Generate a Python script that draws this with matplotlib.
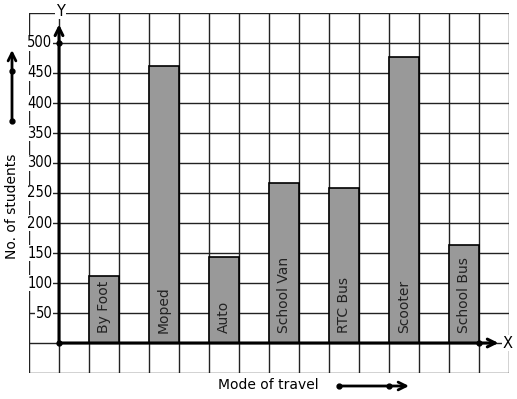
import matplotlib
matplotlib.use('Agg')
import matplotlib.pyplot as plt
import numpy as np

modes = ['By Foot', 'Moped', 'Auto', 'School Van', 'RTC Bus', 'Scooter', 'School Bus']
students = [112, 462, 143, 266, 258, 476, 163]
yticks = [50, 100, 150, 200, 250, 300, 350, 400, 450, 500]

W, H = 517, 399
fig = plt.figure(figsize=(W / 100, H / 100), dpi=100)
# grid box in pixels: x 29..509, y 13..373
ax = fig.add_axes([29 / W, (H - 373) / H, 480 / W, 360 / H])
ax.set_xlim(-1, 15)
ax.set_ylim(-50, 550)
ax.axis('off')

# grid
for gx in np.arange(-1, 16, 1):
    ax.plot([gx, gx], [-50, 550], color='#222222', lw=1.0, zorder=1)
for gy in np.arange(-50, 551, 50):
    ax.plot([-1, 15], [gy, gy], color='#222222', lw=1.0, zorder=1)

# bars
xpos = np.arange(len(modes)) * 2 + 1.5
ax.bar(xpos, students, width=1, color='#999999', edgecolor='black', lw=1.2, zorder=2)
for x, m in zip(xpos, modes):
    ax.text(x, 16, m, rotation=90, ha='center', va='bottom', fontsize=10,
            color='#222222', zorder=3)

# axes with arrows
ax.annotate('', xy=(0, 531), xytext=(0, 0),
            arrowprops=dict(arrowstyle='->', lw=2.2, color='black',
                            mutation_scale=14, shrinkA=0, shrinkB=0), zorder=4)
ax.annotate('', xy=(14.65, 0), xytext=(0, 0),
            arrowprops=dict(arrowstyle='->', lw=2.2, color='black',
                            mutation_scale=14, shrinkA=0, shrinkB=0), zorder=4)
ax.plot([0, 0, 14], [0, 500, 0], 'o', color='black', ms=3.5, zorder=5)

for t in yticks:
    ax.text(-0.22, t, str(t), ha='right', va='center', fontsize=10.5,
            family='DejaVu Sans', stretch='condensed',
            bbox=dict(facecolor='white', edgecolor='none', pad=0.6), zorder=3)

ax.text(0.05, 553, 'Y', ha='center', va='center', fontsize=10.5, clip_on=False,
        bbox=dict(facecolor='white', edgecolor='none', pad=0.5), zorder=6)
ax.text(14.95, 0, 'X', ha='center', va='center', fontsize=10.5, clip_on=False,
        bbox=dict(facecolor='white', edgecolor='none', pad=0.3), zorder=6)

# outer labels and arrows
fig.text(12 / W, 1 - 206 / H, 'No. of students', rotation=90, ha='center',
         va='center', fontsize=10)
fig.text(268 / W, 1 - 385 / H, 'Mode of travel', ha='center', va='center',
         fontsize=10)

arr = dict(arrowstyle='->', lw=2.0, color='black', mutation_scale=14,
           shrinkA=0, shrinkB=0)
fig.add_artist(matplotlib.patches.FancyArrowPatch(
    (12 / W, 1 - 121 / H), (12 / W, 1 - 50 / H), transform=fig.transFigure, **arr))
fig.add_artist(matplotlib.patches.FancyArrowPatch(
    (339 / W, 1 - 386 / H), (409 / W, 1 - 386 / H), transform=fig.transFigure, **arr))
fig.add_artist(matplotlib.lines.Line2D(
    [12 / W, 12 / W], [1 - 121 / H, 1 - 71 / H], transform=fig.transFigure,
    marker='o', ms=3.5, lw=0, color='black'))
fig.add_artist(matplotlib.lines.Line2D(
    [339 / W, 389 / W], [1 - 386 / H, 1 - 386 / H], transform=fig.transFigure,
    marker='o', ms=3.5, lw=0, color='black'))

fig.savefig('out.png', dpi=100, facecolor='white')
